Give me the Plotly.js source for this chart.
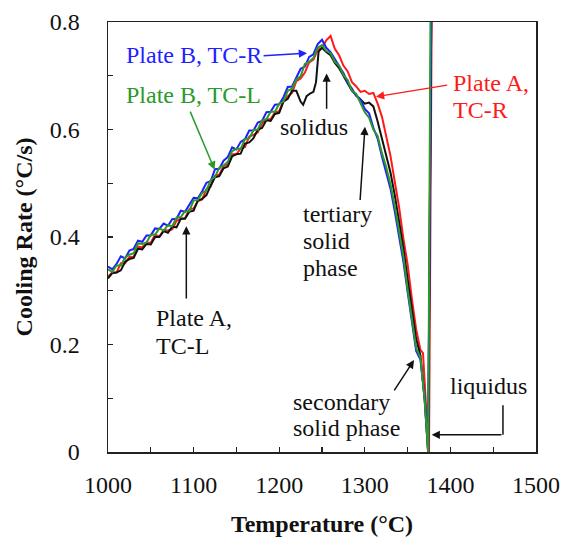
<!DOCTYPE html>
<html>
<head>
<meta charset="utf-8">
<script src="https://cdn.plot.ly/plotly-3.0.1.min.js"></script>
<style>html,body{margin:0;padding:0;background:#fff;}#chart{width:561px;height:539px;}</style>
</head>
<body>
<div id="chart"></div>
<script>
// Plate A, TC-R (red)
const tempA_R = [1000,1005,1010,1015,1020,1025,1030,1035,1040,1045,1050,1055,1060,1065,1070,1075,1080,1085,1090,1095,1100,1105,1110,1115,1120,1125,1130,1135,1140,1145,1150,1155,1160,1165,1170,1175,1180,1185,1190,1195,1200,1205,1210,1215,1220,1225,1230,1235,1240,1245,1250,1255,1260,1265,1270,1275,1280,1285,1290,1295,1300,1305,1310,1315,1320,1325,1330,1335,1340,1345,1350,1355,1360,1365,1368,1371,1375,1378.5];
const rateA_R = [0.326,0.334,0.334,0.351,0.351,0.363,0.363,0.382,0.381,0.389,0.390,0.404,0.401,0.413,0.412,0.414,0.430,0.434,0.435,0.452,0.453,0.467,0.470,0.489,0.494,0.514,0.516,0.532,0.535,0.554,0.554,0.565,0.567,0.587,0.590,0.595,0.611,0.619,0.619,0.632,0.634,0.654,0.662,0.668,0.690,0.695,0.706,0.725,0.730,0.748,0.752,0.766,0.774,0.750,0.738,0.719,0.708,0.688,0.680,0.670,0.672,0.666,0.668,0.648,0.624,0.588,0.551,0.503,0.456,0.398,0.349,0.285,0.228,0.190,0.184,0.100,0.0,0.9];

// Plate A, TC-L (black)
const tempA_L = [1000,1005,1010,1015,1020,1025,1030,1035,1040,1045,1050,1055,1060,1065,1070,1075,1080,1085,1090,1095,1100,1105,1110,1115,1120,1125,1130,1135,1140,1145,1150,1155,1160,1165,1170,1175,1180,1185,1190,1195,1200,1205,1210,1215,1220,1225,1228,1232,1236,1240,1243,1246,1250,1255,1260,1265,1270,1275,1280,1285,1290,1295,1300,1305,1310,1315,1320,1325,1330,1335,1340,1345,1350,1355,1360,1365,1370,1374,1378];
const rateA_L = [0.323,0.333,0.334,0.338,0.354,0.359,0.361,0.378,0.377,0.387,0.386,0.400,0.400,0.411,0.408,0.419,0.418,0.434,0.434,0.447,0.449,0.468,0.471,0.478,0.496,0.511,0.513,0.528,0.531,0.550,0.554,0.555,0.574,0.576,0.584,0.600,0.603,0.617,0.616,0.629,0.631,0.652,0.657,0.672,0.672,0.652,0.646,0.662,0.667,0.670,0.688,0.745,0.752,0.744,0.738,0.724,0.714,0.700,0.688,0.672,0.664,0.655,0.648,0.650,0.643,0.615,0.585,0.555,0.520,0.478,0.432,0.380,0.322,0.268,0.210,0.180,0.095,0.0,0.9];

// Plate B, TC-R (blue)
const tempB_R = [1000,1005,1010,1015,1020,1025,1030,1035,1040,1045,1050,1055,1060,1065,1070,1075,1080,1085,1090,1095,1100,1105,1110,1115,1120,1125,1130,1135,1140,1145,1150,1155,1160,1165,1170,1175,1180,1185,1190,1195,1200,1205,1210,1215,1220,1225,1230,1235,1240,1245,1250,1255,1260,1265,1270,1275,1280,1285,1290,1295,1300,1305,1310,1315,1320,1325,1330,1335,1340,1345,1350,1355,1360,1365,1370,1374,1378];
const rateB_R = [0.345,0.340,0.350,0.364,0.360,0.375,0.378,0.393,0.391,0.403,0.403,0.416,0.415,0.425,0.421,0.433,0.434,0.449,0.447,0.461,0.473,0.472,0.485,0.501,0.504,0.526,0.527,0.542,0.549,0.567,0.563,0.577,0.582,0.598,0.598,0.613,0.616,0.632,0.633,0.646,0.647,0.660,0.679,0.680,0.697,0.713,0.717,0.735,0.740,0.759,0.767,0.752,0.744,0.731,0.716,0.705,0.687,0.676,0.662,0.656,0.638,0.630,0.603,0.583,0.550,0.522,0.490,0.448,0.400,0.355,0.298,0.245,0.188,0.172,0.100,0.0,0.9];

// Plate B, TC-L (green)
const tempB_L = [1000,1005,1010,1015,1020,1025,1030,1035,1040,1045,1050,1055,1060,1065,1070,1075,1080,1085,1090,1095,1100,1105,1110,1115,1120,1125,1130,1135,1140,1145,1150,1155,1160,1165,1170,1175,1180,1185,1190,1195,1200,1205,1210,1215,1220,1225,1230,1235,1240,1245,1250,1255,1260,1265,1270,1275,1280,1285,1290,1295,1300,1305,1310,1315,1320,1325,1330,1335,1340,1345,1350,1355,1360,1365,1370,1374,1377];
const rateB_L = [0.340,0.335,0.347,0.347,0.362,0.367,0.370,0.388,0.387,0.390,0.404,0.404,0.416,0.412,0.422,0.420,0.436,0.437,0.448,0.448,0.468,0.469,0.482,0.487,0.506,0.512,0.529,0.533,0.540,0.560,0.564,0.564,0.582,0.584,0.599,0.600,0.617,0.619,0.633,0.633,0.648,0.652,0.672,0.676,0.693,0.699,0.722,0.726,0.733,0.752,0.757,0.746,0.742,0.726,0.719,0.701,0.692,0.672,0.666,0.650,0.632,0.622,0.600,0.588,0.556,0.530,0.498,0.458,0.408,0.365,0.303,0.252,0.193,0.176,0.095,0.0,0.9];

const xTickVals = [1000,1100,1200,1300,1400,1500];
const xTickText = ['1000','1100','1200','1300','1400','1500'];
const yTickVals = [0,0.2,0.4,0.6,0.8];
const yTickText = ['0','0.2','0.4','0.6','0.8'];

const RED = '#ff1a1a', BLACK = '#111111', BLUE = '#1f1fff', GREEN = '#2a9a2a';
const FONT = 'Liberation Serif, Times New Roman, serif';
const FS = 24;

function tr(x, y, c) {
  return {x: x, y: y, type: 'scatter', mode: 'lines', line: {color: c, width: 2}, hoverinfo: 'skip', showlegend: false};
}
const data = [
  tr(tempA_R, rateA_R, RED),
  tr(tempA_L, rateA_L, BLACK),
  tr(tempB_R, rateB_R, BLUE),
  tr(tempB_L, rateB_L, GREEN)
];

function txt(x, y, t, c, xa) {
  return {x: x, y: y, xref: 'x', yref: 'y', text: t, showarrow: false, xanchor: xa || 'center', yanchor: 'middle', align: 'left', font: {family: FONT, size: FS, color: c}};
}
function arr(x0, y0, x1, y1, c) {
  return {x: x1, y: y1, ax: x0, ay: y0, xref: 'x', yref: 'y', axref: 'x', ayref: 'y', text: '', showarrow: true, arrowhead: 2, arrowsize: 1.1, arrowwidth: 1.5, arrowcolor: c};
}

const annotations = [
  txt(1099.9, 0.738, 'Plate B, TC-R', BLUE),
  arr(1180, 0.737, 1232.5, 0.742, BLUE),
  txt(1099.9, 0.664, 'Plate B, TC-L', GREEN),
  arr(1095.3, 0.636, 1124.6, 0.525, GREEN),
  txt(1240.6, 0.605, 'solidus', BLACK),
  arr(1255.4, 0.636, 1255.4, 0.704, BLACK),
  txt(1401, 0.6865, 'Plate A,', RED, 'left'),
  txt(1401, 0.6363, 'TC-R', RED, 'left'),
  arr(1398, 0.683, 1313, 0.661, RED),
  txt(1226, 0.4428, 'tertiary', BLACK, 'left'),
  txt(1226, 0.3926, 'solid', BLACK, 'left'),
  txt(1226, 0.3423, 'phase', BLACK, 'left'),
  arr(1294.4, 0.466, 1300.2, 0.605, BLACK),
  txt(1054, 0.2493, 'Plate A,', BLACK, 'left'),
  txt(1054, 0.1972, 'TC-L', BLACK, 'left'),
  arr(1091.5, 0.283, 1091.5, 0.420, BLACK),
  txt(1214, 0.0930, 'secondary', BLACK, 'left'),
  txt(1214, 0.0447, 'solid phase', BLACK, 'left'),
  arr(1333.3, 0.112, 1357.5, 0.171, BLACK),
  txt(1397.5, 0.1228, 'liquidus', BLACK, 'left'),
  arr(1461.4, 0.032, 1378.1, 0.032, BLACK)
];

const shapes = [
  {type: 'line', xref: 'x', yref: 'y', x0: 1461.4, x1: 1461.4, y0: 0.087, y1: 0.032, line: {color: BLACK, width: 1.5}}
];

const layout = {
  width: 561, height: 539,
  margin: {l: 108, r: 25, t: 22, b: 87},
  paper_bgcolor: '#fff', plot_bgcolor: '#fff',
  showlegend: false,
  hovermode: false,
  font: {family: FONT, size: FS, color: '#111'},
  xaxis: {
    range: [1000, 1500], tickvals: xTickVals, ticktext: xTickText,
    ticks: 'inside', ticklen: 5, tickwidth: 1.2, tickcolor: '#222',
    minor: {dtick: 50, tick0: 1000, ticks: 'inside', ticklen: 5, tickwidth: 1.2, tickcolor: '#222'},
    showline: true, linecolor: '#222', linewidth: 1.5, mirror: true,
    showgrid: false, zeroline: false,
    ticklabelstandoff: 11,
    tickfont: {family: FONT, size: FS, color: '#111'},
    title: {text: 'Temperature (°C)', font: {family: FONT, size: FS, color: '#111', weight: 'bold'}, standoff: 18}
  },
  yaxis: {
    range: [0, 0.8], tickvals: yTickVals, ticktext: yTickText,
    ticks: 'inside', ticklen: 5, tickwidth: 1.2, tickcolor: '#222',
    minor: {dtick: 0.1, tick0: 0, ticks: 'inside', ticklen: 5, tickwidth: 1.2, tickcolor: '#222'},
    showline: true, linecolor: '#222', linewidth: 1.5, mirror: true,
    showgrid: false, zeroline: false,
    ticklabelstandoff: 22,
    tickfont: {family: FONT, size: FS, color: '#111'},
    title: {text: 'Cooling Rate (°C/s)', font: {family: FONT, size: FS, color: '#111', weight: 'bold'}, standoff: 10}
  },
  annotations: annotations,
  shapes: shapes
};

Plotly.newPlot('chart', data, layout, {displayModeBar: false, staticPlot: true});
</script>
</body>
</html>
